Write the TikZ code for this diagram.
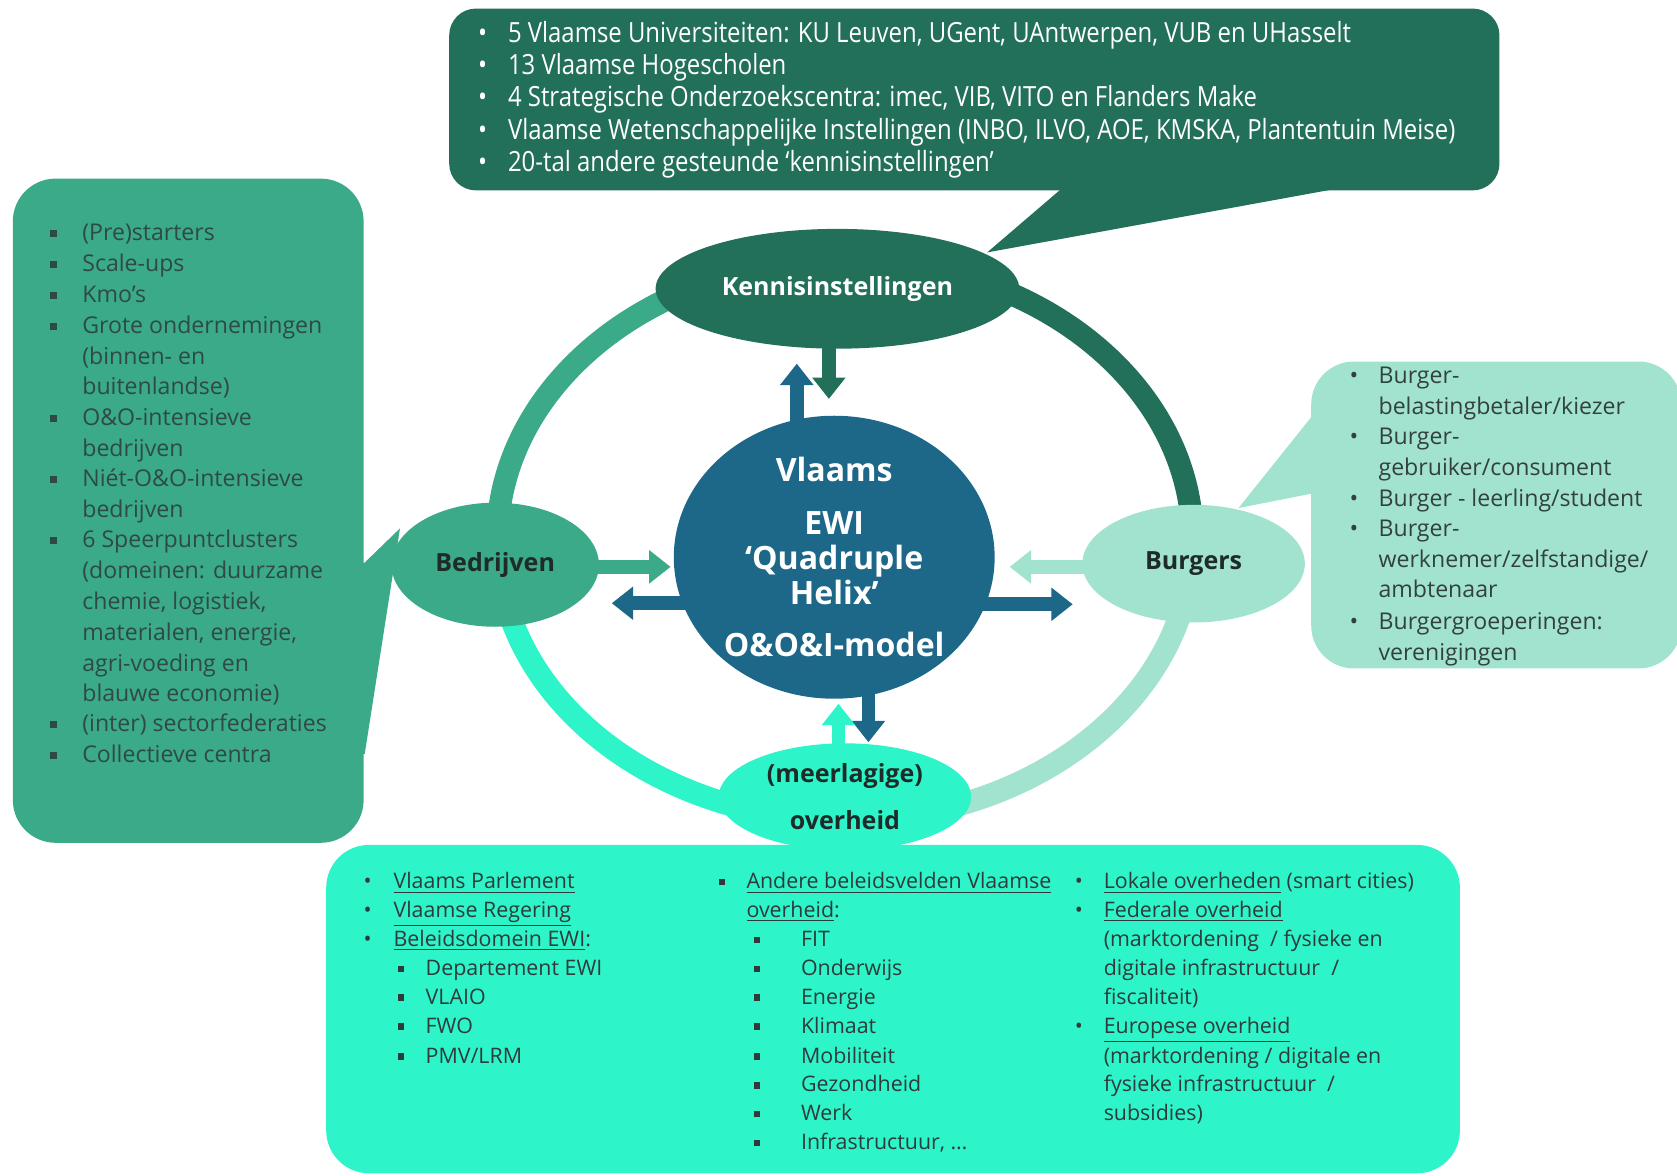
\documentclass[tikz,border=0pt]{standalone}
\usepackage{fontspec}
\setmainfont{Open Sans}
\newfontfamily\condf[FakeStretch=0.86]{Open Sans}
\usetikzlibrary{arrows.meta,shapes.geometric}
\definecolor{dkg}{HTML}{22705A}
\definecolor{mdg}{HTML}{3AAA88}
\definecolor{ltm}{HTML}{A2E3CF}
\definecolor{aqu}{HTML}{2DF5C9}
\definecolor{blu}{HTML}{1D6888}
\definecolor{txd}{HTML}{1E2B28}
\definecolor{txl}{HTML}{2F4A44}
\definecolor{txr}{HTML}{33413D}
\definecolor{txb}{HTML}{2E3B3A}
\newcommand\bul[1]{\makebox[#1][l]{\textbullet}}
\newcommand\sqb[1]{\makebox[#1][l]{\rule[0.16em]{0.3em}{0.3em}}}
\newcommand\myul[1]{\underline{#1}}
\begin{document}
\begin{tikzpicture}[x=0.5pt,y=-0.5pt,
  ln/.style={anchor=base west, inner sep=0pt, outer sep=0pt},
  topt/.style={ln, text=white, font=\condf\fontsize{13}{15}\selectfont},
  leftt/.style={ln, text=txl, font=\fontsize{10.8}{14}\selectfont},
  rightt/.style={ln, text=txr, font=\fontsize{10.8}{14}\selectfont},
  bott/.style={ln, text=txb, font=\fontsize{10}{13}\selectfont},
  lbl/.style={ellipse, inner sep=0pt, font=\bfseries\fontsize{11.7}{14}\selectfont, align=center},
  ringseg/.style={line width=10.5pt},
  barr/.style={line width=6.5pt, -{Triangle[length=10pt,width=15pt]}},
]
\useasboundingbox (0,0) rectangle (1568,1099);
\fill[white] (0,0) rectangle (1568,1099);

% ring
\draw[ringseg, mdg] (790,505) ++(180:325 and 262) arc[start angle=180, end angle=270, x radius=325, y radius=262];
\draw[ringseg, dkg] (790,505) ++(270:325 and 262) arc[start angle=270, end angle=360, x radius=325, y radius=262];
\draw[ringseg, ltm] (790,505) ++(0:325 and 262) arc[start angle=0, end angle=90, x radius=325, y radius=262];
\draw[ringseg, aqu] (790,505) ++(90:325 and 262) arc[start angle=90, end angle=180, x radius=325, y radius=262];

% callout boxes
\fill[dkg, rounded corners=12.5pt] (420,8) rectangle (1402,178);
\fill[dkg] (1000,170) -- (923,236) -- (1285,170) -- cycle;
\fill[mdg, rounded corners=20pt] (12,167) rectangle (340,788);
\fill[mdg] (330,526) -- (341,526) -- (374,494) -- (341,705) -- (330,705) -- cycle;
\fill[ltm, rounded corners=20pt] (1226,338) rectangle (1572,625);
\fill[ltm] (1234,380) -- (1158,475) -- (1234,460) -- cycle;
\fill[aqu, rounded corners=20pt] (305,790) rectangle (1365,1097);

% ellipse nodes
\node[lbl, fill=dkg, text=white, minimum width=170pt, minimum height=56pt] (kennis) at (783,270) {Kennisinstellingen};
\node[lbl, fill=mdg, text=txd, minimum width=97pt, minimum height=58pt] (bedrijven) at (463,528) {Bedrijven};
\node[lbl, fill=ltm, text=txd, minimum width=104pt, minimum height=55pt] (burgers) at (1116,527) {Burgers};
\node[lbl, fill=aqu, text=txd, minimum width=118pt, minimum height=50pt] (overheid) at (790,745) {(meerlagige)\\[8pt]overheid};
\node[ellipse, fill=blu, text=white, inner sep=0pt, minimum width=150pt, minimum height=132pt, align=center,
      font=\bfseries\fontsize{15}{16.25}\selectfont] (hub) at (780,521)
      {Vlaams\\[8.5pt]EWI\\‘Quadruple\\Helix’\\[8.5pt]O\&O\&I-model};

% arrow end points
\coordinate (hubN) at (745,400); \coordinate (kenS) at (745,340);
\coordinate (kenA) at (775,320); \coordinate (hubNt) at (775,373);
\coordinate (bedA) at (545,530); \coordinate (hubWt) at (627,530);
\coordinate (hubW) at (650,564); \coordinate (bedT) at (572,564);
\coordinate (burA) at (1020,530); \coordinate (hubEt) at (944,530);
\coordinate (hubE) at (915,565); \coordinate (burT) at (1003,565);
\coordinate (hubS) at (812,640); \coordinate (ovhT) at (812,694);
\coordinate (ovhA) at (784,705); \coordinate (hubSt) at (784,658);

\draw[barr, blu] (hubN) -- (kenS);
\draw[barr, dkg] (kenA) -- (hubNt);
\draw[barr, mdg] (bedA) -- (hubWt);
\draw[barr, blu] (hubW) -- (bedT);
\draw[barr, ltm] (burA) -- (hubEt);
\draw[barr, blu] (hubE) -- (burT);
\draw[barr, blu] (hubS) -- (ovhT);
\draw[barr, aqu] (ovhA) -- (hubSt);

% top box text
\node[topt] (t1) at (447,40) {\bul{14pt}5 Vlaamse Universiteiten: KU Leuven, UGent, UAntwerpen, VUB en UHasselt};
\node[topt] (t2) at (447,70) {\bul{14pt}13 Vlaamse Hogescholen};
\node[topt] (t3) at (447,100) {\bul{14pt}4 Strategische Onderzoekscentra: imec, VIB, VITO en Flanders Make};
\node[topt] (t4) at (447,130) {\bul{14pt}Vlaamse Wetenschappelijke Instellingen (INBO, ILVO, AOE, KMSKA, Plantentuin Meise)};
\node[topt] (t5) at (447,160) {\bul{14pt}20-tal andere gesteunde ‘kennisinstellingen’};

% left list
\node[leftt] (l1) at (47,225) {\sqb{15pt}(Pre)starters};
\node[leftt] (l2) at (47,254) {\sqb{15pt}Scale-ups};
\node[leftt] (l3) at (47,283) {\sqb{15pt}Kmo’s};
\node[leftt] (l4) at (47,312) {\sqb{15pt}Grote ondernemingen};
\node[leftt] (l5) at (77,341) {(binnen- en};
\node[leftt] (l6) at (77,369) {buitenlandse)};
\node[leftt] (l7) at (47,398) {\sqb{15pt}O\&O-intensieve};
\node[leftt] (l8) at (77,427) {bedrijven};
\node[leftt] (l9) at (47,455) {\sqb{15pt}Niét-O\&O-intensieve};
\node[leftt] (l10) at (77,484) {bedrijven};
\node[leftt] (l11) at (47,512) {\sqb{15pt}6 Speerpuntclusters};
\node[leftt] (l12) at (77,541) {(domeinen: duurzame};
\node[leftt] (l13) at (77,570) {chemie, logistiek,};
\node[leftt] (l14) at (77,599) {materialen, energie,};
\node[leftt] (l15) at (77,628) {agri-voeding en};
\node[leftt] (l16) at (77,656) {blauwe economie)};
\node[leftt] (l17) at (47,684) {\sqb{15pt}(inter) sectorfederaties};
\node[leftt] (l18) at (47,713) {\sqb{15pt}Collectieve centra};

% right list
\node[rightt] (r1) at (1262,359) {\bul{13.5pt}Burger-};
\node[rightt] (r2) at (1289,388) {belastingbetaler/kiezer};
\node[rightt] (r3) at (1262,416) {\bul{13.5pt}Burger-};
\node[rightt] (r4) at (1289,445) {gebruiker/consument};
\node[rightt] (r5) at (1262,474) {\bul{13.5pt}Burger - leerling/student};
\node[rightt] (r6) at (1262,502) {\bul{13.5pt}Burger-};
\node[rightt] (r7) at (1289,531) {werknemer/zelfstandige/};
\node[rightt] (r8) at (1289,559) {ambtenaar};
\node[rightt] (r9) at (1262,589) {\bul{13.5pt}Burgergroeperingen:};
\node[rightt] (r10) at (1289,618) {verenigingen};

% bottom column 1
\node[bott] (a1) at (340,831) {\bul{14pt}\myul{Vlaams Parlement}};
\node[bott] (a2) at (340,858) {\bul{14pt}\myul{Vlaamse Regering}};
\node[bott] (a3) at (340,885) {\bul{14pt}\myul{Beleidsdomein EWI}:};
\node[bott] (a4) at (372,912) {\sqb{13pt}Departement EWI};
\node[bott] (a5) at (372,939) {\sqb{13pt}VLAIO};
\node[bott] (a6) at (372,966) {\sqb{13pt}FWO};
\node[bott] (a7) at (372,994) {\sqb{13pt}PMV/LRM};
% bottom column 2
\node[bott] (c1) at (672,831) {\sqb{13pt}\myul{Andere beleidsvelden Vlaamse}};
\node[bott] (c2) at (698,858) {\myul{overheid}:};
\node[bott] (c3) at (705,885) {\sqb{22pt}FIT};
\node[bott] (c4) at (705,912) {\sqb{22pt}Onderwijs};
\node[bott] (c5) at (705,939) {\sqb{22pt}Energie};
\node[bott] (c6) at (705,966) {\sqb{22pt}Klimaat};
\node[bott] (c7) at (705,994) {\sqb{22pt}Mobiliteit};
\node[bott] (c8) at (705,1021) {\sqb{22pt}Gezondheid};
\node[bott] (c9) at (705,1048) {\sqb{22pt}Werk};
\node[bott] (c10) at (705,1075) {\sqb{22pt}Infrastructuur, …};
% bottom column 3
\node[bott] (e1) at (1005,831) {\bul{13.5pt}\myul{Lokale overheden} (smart cities)};
\node[bott] (e2) at (1005,858) {\bul{13.5pt}\myul{Federale overheid}};
\node[bott] (e3) at (1032,885) {(marktordening \ / fysieke en};
\node[bott] (e4) at (1032,912) {digitale infrastructuur \ /};
\node[bott] (e5) at (1032,939) {fiscaliteit)};
\node[bott] (e6) at (1005,966) {\bul{13.5pt}\myul{Europese overheid}};
\node[bott] (e7) at (1032,994) {(marktordening / digitale en};
\node[bott] (e8) at (1032,1021) {fysieke infrastructuur \ /};
\node[bott] (e9) at (1032,1048) {subsidies)};
\end{tikzpicture}
\end{document}
